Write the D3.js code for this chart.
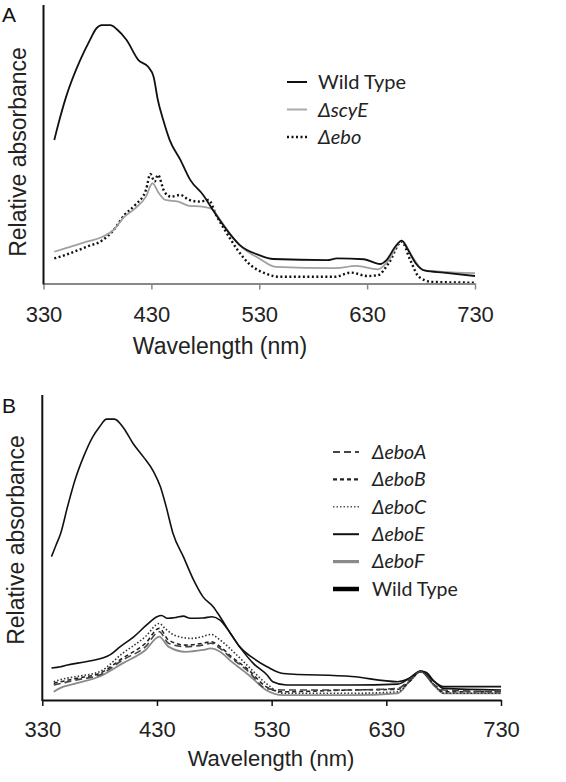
<!DOCTYPE html>
<html><head><meta charset="utf-8">
<script src="https://cdn.jsdelivr.net/npm/d3@7"></script>
<style>body{margin:0;background:#fff}svg{display:block}</style>
</head><body>
<svg id="c" width="566" height="782"></svg>
<script>
// ---------- DATA ----------
const xTicks = [330, 430, 530, 630, 730];

// Panel A
const aWildTypeX = [340,344,351,364,373,379,384,392,398,407,418,427,432,436,441,447,457,466,478,487,500,512,530,543,593,602,627,642,648,656,662,668,675,684,701,730];
const aWildTypeY = [0.515,0.576,0.671,0.802,0.874,0.916,0.928,0.928,0.913,0.874,0.802,0.778,0.743,0.659,0.587,0.515,0.443,0.372,0.318,0.264,0.192,0.138,0.102,0.088,0.084,0.090,0.087,0.070,0.084,0.132,0.154,0.120,0.073,0.046,0.039,0.027];
const aScyEX = [340,350,370,385,395,405,415,425,431,437,443,455,465,477,485,495,505,515,530,545,600,620,640,650,662,672,682,700,730];
const aScyEY = [0.114,0.126,0.150,0.168,0.192,0.240,0.270,0.312,0.360,0.324,0.300,0.294,0.279,0.276,0.270,0.222,0.166,0.126,0.090,0.060,0.055,0.063,0.051,0.084,0.154,0.096,0.048,0.042,0.037];
const aEboX = [340,350,370,385,395,405,415,425,429,433,436,442,448,457,465,475,483,490,500,510,520,535,550,600,615,630,640,650,662,670,678,690,730];
const aEboY = [0.090,0.102,0.132,0.156,0.192,0.246,0.282,0.336,0.393,0.366,0.390,0.330,0.312,0.318,0.300,0.294,0.300,0.246,0.180,0.120,0.073,0.037,0.024,0.024,0.039,0.027,0.030,0.073,0.150,0.084,0.024,0.006,0.003];

// Panel B
const bWildTypeX = [338,342,346,352,359,366,374,380,386,393,401,409,418,427,433,438,444,453,462,470,479,485,494,502,514,526,540,600,640,650,660,665,672,680,730];
const bWildTypeY = [0.470,0.508,0.546,0.634,0.727,0.798,0.863,0.896,0.921,0.921,0.891,0.842,0.798,0.749,0.699,0.634,0.546,0.470,0.393,0.339,0.306,0.273,0.219,0.175,0.137,0.109,0.087,0.077,0.060,0.071,0.095,0.090,0.060,0.044,0.044];
const bEboEX = [338,346,352,369,389,398,410,421,430,434,439,447,453,459,470,478,485,494,502,514,526,531,543,600,640,650,660,672,680,730];
const bEboEY = [0.105,0.109,0.115,0.126,0.148,0.175,0.208,0.246,0.273,0.277,0.268,0.271,0.275,0.268,0.269,0.273,0.262,0.219,0.175,0.120,0.082,0.060,0.049,0.049,0.052,0.071,0.095,0.060,0.038,0.033];
const bEboCX = [340,345,360,380,400,420,432,437,445,460,470,477,485,495,510,525,540,600,640,650,660,672,680,730];
const bEboCY = [0.060,0.066,0.077,0.093,0.153,0.208,0.251,0.235,0.213,0.202,0.208,0.215,0.197,0.164,0.109,0.055,0.022,0.022,0.027,0.060,0.093,0.049,0.022,0.022];
const bEboBX = [340,360,380,400,420,432,440,455,470,477,485,495,510,525,540,600,640,650,660,672,680,730];
const bEboBY = [0.055,0.071,0.087,0.137,0.186,0.235,0.197,0.180,0.186,0.191,0.175,0.142,0.098,0.044,0.027,0.033,0.035,0.060,0.093,0.049,0.027,0.027];
const bEboAX = [340,360,380,400,420,432,440,455,470,477,485,495,510,525,540,600,640,650,660,672,680,730];
const bEboAY = [0.049,0.066,0.082,0.131,0.175,0.224,0.186,0.175,0.180,0.186,0.169,0.137,0.093,0.038,0.033,0.033,0.038,0.066,0.093,0.049,0.033,0.027];
const bEboFX = [340,345,360,380,400,420,432,440,455,470,477,485,495,510,525,540,600,640,650,660,672,680,730];
const bEboFY = [0.027,0.038,0.055,0.077,0.120,0.164,0.208,0.175,0.158,0.164,0.169,0.158,0.126,0.082,0.033,0.016,0.016,0.022,0.060,0.093,0.046,0.022,0.022];

// ---------- STYLES ----------
const sty = {
  "Wild Type A": {stroke:"#111", width:1.8, dash:null, lw:2, lstroke:"#111"},
  "ΔscyE": {stroke:"#a0a0a0", width:1.8, dash:null, lw:2, lstroke:"#aaa"},
  "Δebo": {stroke:"#111", width:2.4, dash:"2,2.5", lw:2.4, lstroke:"#111"},
  "ΔeboA": {stroke:"#444", width:1.6, dash:"7,4", lw:2.2, lstroke:"#444"},
  "ΔeboB": {stroke:"#222", width:1.6, dash:"4,3", lw:2.2, lstroke:"#222"},
  "ΔeboC": {stroke:"#333", width:1.6, dash:"1.5,2", lw:1.6, lstroke:"#555"},
  "ΔeboE": {stroke:"#111", width:1.6, dash:null, lw:2, lstroke:"#111"},
  "ΔeboF": {stroke:"#8a8a8a", width:1.8, dash:null, lw:3.2, lstroke:"#8a8a8a"},
  "Wild Type B": {stroke:"#111", width:1.6, dash:null, lw:4.5, lstroke:"#000"}
};

const zip = (xs, ys) => xs.map((x,i)=>({x, y:ys[i]}));

const panels = [
  {
    letter:"A", letterPos:[2,22],
    left:43.5, right:475, top:5, bottom:283.5,
    xAxisColor:"#888", yAxisColor:"#111",
    tickLabelY:322, titleX:220, titleY:354, titleFs:23, yLabelX:26, yLabelY:152,
    series:[
      {key:"Wild Type A", label:"Wild Type", italic:false, data:zip(aWildTypeX,aWildTypeY)},
      {key:"ΔscyE", label:"ΔscyE", italic:true, data:zip(aScyEX,aScyEY)},
      {key:"Δebo", label:"Δebo", italic:true, data:zip(aEboX,aEboY)}
    ],
    legend:{x1:287, x2:307, tx:318, y0:82, dy:27.5, fs:20}
  },
  {
    letter:"B", letterPos:[2,413],
    left:42.3, right:501, top:395, bottom:700,
    xAxisColor:"#111", yAxisColor:"#111",
    tickLabelY:737, titleX:271, titleY:766, titleFs:22, yLabelX:24, yLabelY:540,
    series:[
      {key:"ΔeboA", label:"ΔeboA", italic:true, data:zip(bEboAX,bEboAY)},
      {key:"ΔeboB", label:"ΔeboB", italic:true, data:zip(bEboBX,bEboBY)},
      {key:"ΔeboC", label:"ΔeboC", italic:true, data:zip(bEboCX,bEboCY)},
      {key:"ΔeboE", label:"ΔeboE", italic:true, data:zip(bEboEX,bEboEY)},
      {key:"ΔeboF", label:"ΔeboF", italic:true, data:zip(bEboFX,bEboFY)},
      {key:"Wild Type B", label:"Wild Type", italic:false, data:zip(bWildTypeX,bWildTypeY)}
    ],
    legend:{x1:333, x2:359, tx:372, y0:452, dy:27.4, fs:19.5}
  }
];

const svg = d3.select("#c");
const AF = "'Liberation Sans', Arial, sans-serif";
const LF = "Lato, 'Open Sans', sans-serif";

panels.forEach(p => {
  const g = svg.append("g");
  const x = d3.scaleLinear().domain([330,730]).range([p.left,p.right]);
  const y = d3.scaleLinear().domain([0,1]).range([p.bottom,p.top]);

  const line = d3.line().x(d=>x(d.x)).y(d=>y(d.y)).curve(d3.curveMonotoneX);
  const order = p.series.slice().reverse();
  order.forEach(s => {
    const st = sty[s.key];
    g.append("path").datum(s.data)
      .attr("d", line)
      .attr("fill","none")
      .attr("stroke", st.stroke)
      .attr("stroke-width", st.width)
      .attr("stroke-dasharray", st.dash)
      .attr("stroke-linejoin","round");
  });

  const xa = g.append("g").attr("transform",`translate(0,${p.bottom})`)
    .call(d3.axisBottom(x).tickValues(xTicks).tickSize(6).tickSizeOuter(0).tickFormat(d3.format("d")));
  xa.select(".domain").attr("stroke",p.xAxisColor).attr("stroke-width",2);
  xa.selectAll(".tick line").attr("stroke",p.xAxisColor).attr("stroke-width",1.5);
  xa.selectAll(".tick text").attr("y", p.tickLabelY - p.bottom).attr("dy",0)
    .attr("font-family",AF).attr("font-size",22).attr("fill","#222");

  g.append("line").attr("x1",p.left).attr("x2",p.left).attr("y1",p.top).attr("y2",p.bottom+1)
    .attr("stroke",p.yAxisColor).attr("stroke-width",2);

  g.append("text").attr("x",p.titleX).attr("y",p.titleY).attr("text-anchor","middle")
    .attr("font-family",AF).attr("font-size",p.titleFs).attr("fill","#222").text("Wavelength (nm)");
  g.append("text").attr("transform",`translate(${p.yLabelX},${p.yLabelY}) rotate(-90)`)
    .attr("text-anchor","middle").attr("font-family",AF).attr("font-size",23).attr("fill","#222")
    .text("Relative absorbance");
  g.append("text").attr("x",p.letterPos[0]).attr("y",p.letterPos[1])
    .attr("font-family",AF).attr("font-size",21).attr("fill","#111").text(p.letter);

  const L = p.legend;
  p.series.forEach((s,i) => {
    const st = sty[s.key];
    const yy = L.y0 + i*L.dy;
    g.append("line").attr("x1",L.x1).attr("x2",L.x2).attr("y1",yy).attr("y2",yy)
      .attr("stroke",st.lstroke).attr("stroke-width",st.lw).attr("stroke-dasharray",st.dash);
    g.append("text").attr("x",L.tx).attr("y",yy).attr("dy","0.35em")
      .attr("font-family",LF).attr("font-size",L.fs).attr("fill","#222")
      .attr("font-style", s.italic ? "italic" : "normal")
      .text(s.label);
  });
});
</script>
</body></html>
